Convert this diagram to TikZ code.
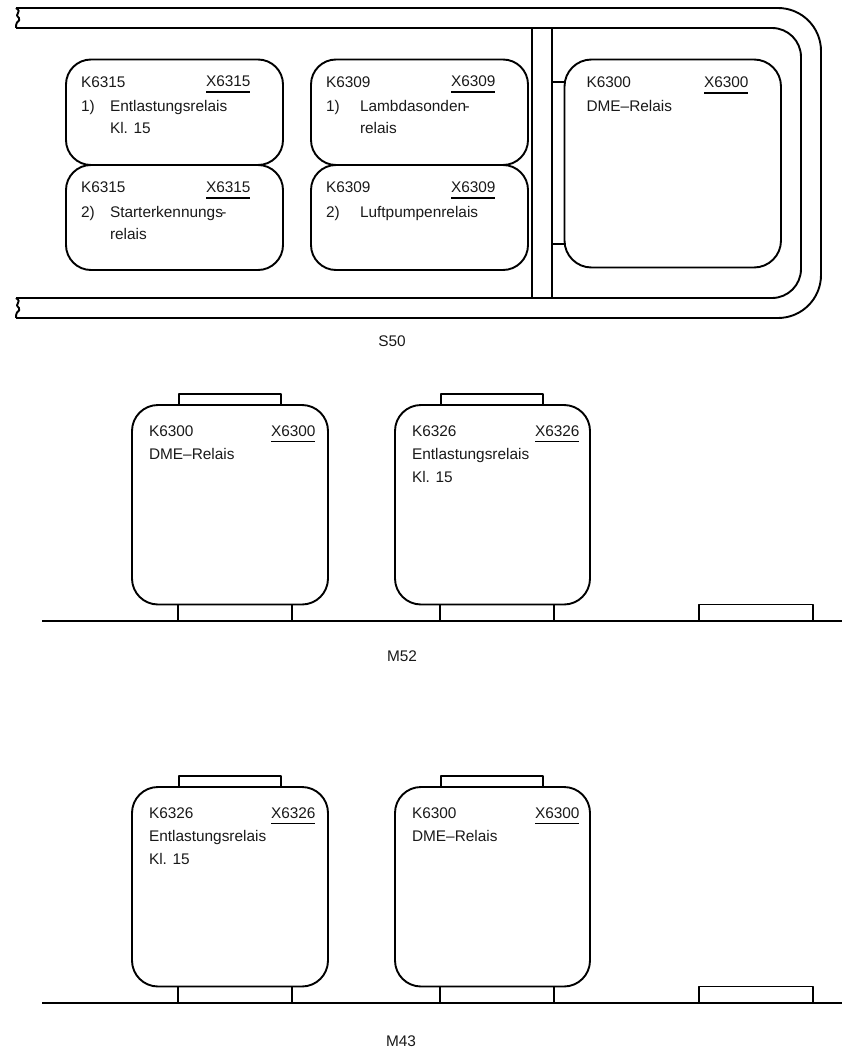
\documentclass[tikz,border=0pt]{standalone}
\usepackage{fontspec}
\setmainfont{Liberation Sans}
\tikzset{
  x=1pt,y=-1pt,
  ln/.style={line width=1.9pt,black,line join=round},
  rbox/.style={ln,rounded corners=#1},
  rbox/.default=25pt,
  thin line/.style={line width=1.2pt,black},
  lbl/.style={anchor=base west,inner sep=0pt,outer sep=0pt,font=\fontsize{15.4pt}{18pt}\selectfont,text=black!90},
  lblc/.style={lbl,anchor=base},
}
\newcommand{\wavy}[2]{\draw[ln] (#1,#2) .. controls (#1+3,#2+2.5) and (#1+3.5,#2+3) .. (#1+2,#2+5) .. controls (#1+0.5,#2+7) and (#1+0.5,#2+7.5) .. (#1+3,#2+10) .. controls (#1+3.5,#2+12) and (#1+3.5,#2+13) .. (#1+1,#2+14.5) .. controls (#1+0,#2+16) and (#1+0,#2+18) .. (#1+0,#2+20);}
\newcommand{\xlabel}[4]{\node[lbl] (#1) at (#2,#3) {#4}; \draw[thin line] (#1.base west)++(0,5) -- ++(44,0);}
\begin{document}
\begin{tikzpicture}
\path[use as bounding box] (0,0) rectangle (842,1051);
% band
\draw[ln,rounded corners=43pt] (16,8) -- (821,8) -- (821,318) -- (16,318);
\draw[ln,rounded corners=29pt] (16,28) -- (801,28) -- (801,298) -- (16,298);
\wavy{16}{8}
\wavy{16}{298}
\draw[ln] (532,28) -- (532,298);
\draw[ln] (552,28) -- (552,298);
% S50 boxes
\draw[rbox] (66,59.5) rectangle (283,165);
\draw[rbox] (66,165) rectangle (283,270);
\draw[rbox] (311,59.5) rectangle (528,165);
\draw[rbox] (311,165) rectangle (528,270);
\draw[rbox=27pt] (564.5,59.5) rectangle (781,267.5);
\draw[ln] (552,81.7) -- (566,81.7);
\draw[ln] (552,244) -- (566,244);
% texts S50
\node[lbl] (a1) at (81,88) {K6315};
\xlabel{a2}{206}{87}{X6315}
\node[lbl] (a3) at (81,111.5) {1)};
\node[lbl] (a4) at (110,111.5) {Entlastungsrelais};
\node[lbl] (a5) at (110,134) {Kl. 15};
\node[lbl] (b1) at (81,193) {K6315};
\xlabel{b2}{206}{193}{X6315}
\node[lbl] (b3) at (81,217) {2)};
\node[lbl] (b4) at (110,217) {Starterkennungs\kern-1.5pt-};
\node[lbl] (b5) at (110,239) {relais};
\node[lbl] (c1) at (326,88) {K6309};
\xlabel{c2}{451}{87}{X6309}
\node[lbl] (c3) at (326,111.5) {1)};
\node[lbl] (c4) at (360,111.5) {Lambdasonden\kern-1.5pt-};
\node[lbl] (c5) at (360,134) {relais};
\node[lbl] (d1) at (326,193) {K6309};
\xlabel{d2}{451}{193}{X6309}
\node[lbl] (d3) at (326,217) {2)};
\node[lbl] (d4) at (360,217) {Luftpumpenrelais};
\node[lbl] (e1) at (586.5,88) {K6300};
\xlabel{e2}{704}{88}{X6300}
\node[lbl] (e3) at (586.5,111.5) {DME--Relais};
\node[lblc] (s50) at (392,346) {S50};
% M52
\draw[rbox=26pt] (132,405) rectangle (328,604.5);
\draw[rbox=26pt] (395,405) rectangle (590,604.5);
\draw[ln] (179,405) -- (179,393.7) -- (281,393.7) -- (281,405);
\draw[ln] (441,405) -- (441,393.7) -- (543,393.7) -- (543,405);
\draw[ln] (42,620.7) -- (842,620.7);
\draw[ln] (178,604.5) -- (178,620.7);
\draw[ln] (292,604.5) -- (292,620.7);
\draw[ln] (440,604.5) -- (440,620.7);
\draw[ln] (554,604.5) -- (554,620.7);
\draw[ln] (699,620.7) -- (699,604.5) -- (813,604.5) -- (813,620.7);
\node[lbl] (f1) at (149,436.5) {K6300};
\xlabel{f2}{271}{436.5}{X6300}
\node[lbl] (f3) at (149,459) {DME--Relais};
\node[lbl] (g1) at (412,436.5) {K6326};
\xlabel{g2}{535}{436.5}{X6326}
\node[lbl] (g3) at (412,459) {Entlastungsrelais};
\node[lbl] (g4) at (412,482) {Kl. 15};
\node[lblc] (m52) at (402,661) {M52};
% M43
\draw[rbox=26pt] (132,787) rectangle (328,986.5);
\draw[rbox=26pt] (395,787) rectangle (590,986.5);
\draw[ln] (179,787) -- (179,775.7) -- (281,775.7) -- (281,787);
\draw[ln] (441,787) -- (441,775.7) -- (543,775.7) -- (543,787);
\draw[ln] (42,1002.7) -- (842,1002.7);
\draw[ln] (178,986.5) -- (178,1002.7);
\draw[ln] (292,986.5) -- (292,1002.7);
\draw[ln] (440,986.5) -- (440,1002.7);
\draw[ln] (554,986.5) -- (554,1002.7);
\draw[ln] (699,1002.7) -- (699,986.5) -- (813,986.5) -- (813,1002.7);
\node[lbl] (h1) at (149,818.5) {K6326};
\xlabel{h2}{271}{818.5}{X6326}
\node[lbl] (h3) at (149,841) {Entlastungsrelais};
\node[lbl] (h4) at (149,864) {Kl. 15};
\node[lbl] (i1) at (412,818.5) {K6300};
\xlabel{i2}{535}{818.5}{X6300}
\node[lbl] (i3) at (412,841) {DME--Relais};
\node[lblc] (m43) at (401,1046) {M43};
\end{tikzpicture}
\end{document}
